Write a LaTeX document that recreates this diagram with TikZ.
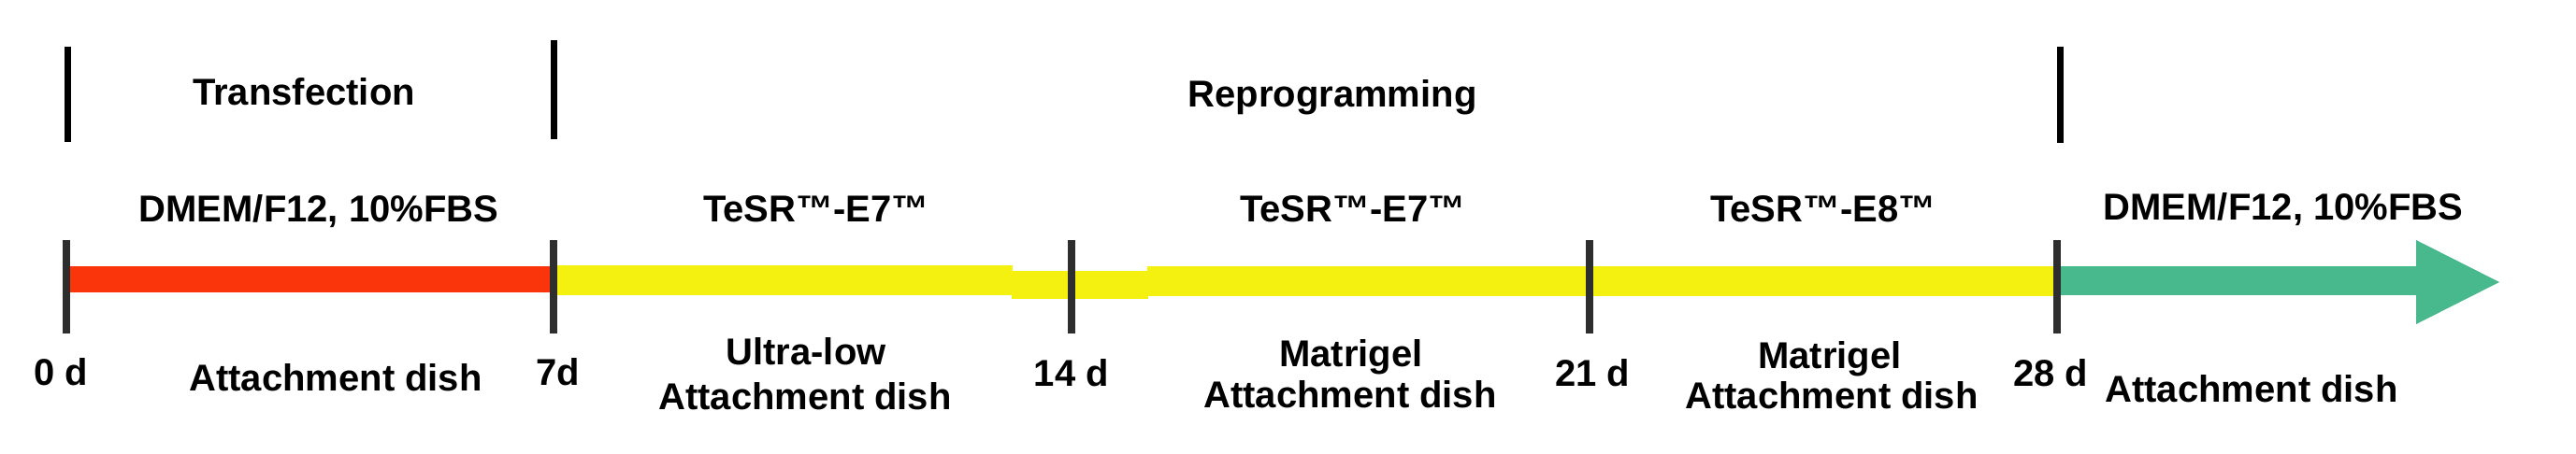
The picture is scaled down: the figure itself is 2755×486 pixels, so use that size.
\documentclass[tikz,border=0pt]{standalone}
\usepackage{fontspec}
\setmainfont{Liberation Sans}
\definecolor{barred}{HTML}{FA340B}
\definecolor{baryellow}{HTML}{F4F00F}
\definecolor{bargreen}{HTML}{48B98C}
\definecolor{tickgray}{HTML}{2E2E2E}
\begin{document}
\begin{tikzpicture}[x=1pt,y=-1pt,
  lbl/.style={font=\fontsize{40}{44}\selectfont\bfseries, anchor=base, inner sep=0pt},
  uptick/.style={line width=7pt, draw=black},
  lowtick/.style={line width=8pt, draw=tickgray}]
\useasboundingbox (0,0) rectangle (2755,486);
% day positions on the bar
\coordinate (d0) at (71,299);
\coordinate (d7) at (592,299);
\coordinate (d14) at (1146,299);
\coordinate (d21) at (1700,299);
\coordinate (d28) at (2200,299);
\coordinate (tip) at (2673,302);
% bars
\fill[barred] (71,285) rectangle (592,313);
\fill[baryellow] (592,284) rectangle (1083,316);
\fill[baryellow] (1082,290) rectangle (1228,320);
\fill[baryellow] (1227,285) rectangle (2200,317);
\fill[bargreen] (2200,285) rectangle (2590,316);
\fill[bargreen] (2584,257) -- (tip) -- (2584,347) -- cycle;
% tick end levels
\coordinate (lt) at (0,257);
\coordinate (lb) at (0,357);
% lower ticks
\foreach \d in {d0,d7,d14,d21,d28}
  \draw[lowtick] (\d |- lt) -- (\d |- lb);
% upper ticks
\coordinate (u0a) at (72,50);  \coordinate (u0b) at (72,152);
\coordinate (u7a) at (592,43); \coordinate (u7b) at (592,149);
\coordinate (u28a) at (2203,50); \coordinate (u28b) at (2203,153);
\draw[uptick] (u0a) -- (u0b);
\draw[uptick] (u7a) -- (u7b);
\draw[uptick] (u28a) -- (u28b);
% phase labels
\node[lbl] (transf) at (325,113) {Transfection};
\node[lbl] (reprog) at (1425,115) {Reprogramming};
% media labels
\node[lbl] (m1) at (341,238) {DMEM/F12, 10\%FBS};
\node[lbl] (m2) at (873,238) {TeSR™-E7™};
\node[lbl] (m3) at (1447,238) {TeSR™-E7™};
\node[lbl] (m4) at (1950,238) {TeSR™-E8™};
\node[lbl] (m5) at (2442,236) {DMEM/F12, 10\%FBS};
% day labels
\node[lbl] (l0) at (65,412) {0 d};
\node[lbl] (l7) at (597,412) {7d};
\node[lbl] (l14) at (1146,413) {14 d};
\node[lbl] (l21) at (1703,413) {21 d};
\node[lbl] (l28) at (2193,413) {28 d};
% dish labels
\node[lbl] (p1) at (359,418) {Attachment dish};
\node[lbl] (p2a) at (862,390) {Ultra-low};
\node[lbl] (p2b) at (861,438) {Attachment dish};
\node[lbl] (p3a) at (1445,392) {Matrigel};
\node[lbl] (p3b) at (1444,436) {Attachment dish};
\node[lbl] (p4a) at (1957,394) {Matrigel};
\node[lbl] (p4b) at (1959,437) {Attachment dish};
\node[lbl] (p5) at (2408,430) {Attachment dish};
\end{tikzpicture}
\end{document}
